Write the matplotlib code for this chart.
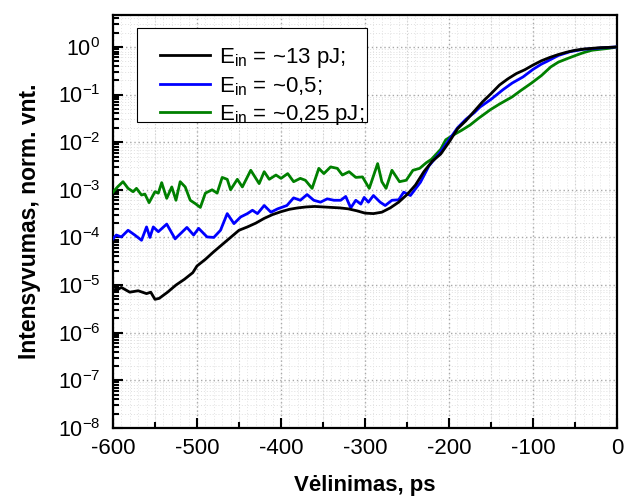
import numpy as np
import matplotlib
matplotlib.use("Agg")
import matplotlib.pyplot as plt
from matplotlib.patches import Rectangle
from matplotlib.ticker import MultipleLocator, LogLocator, NullFormatter

plt.rcParams['font.family'] = ['Liberation Sans', 'DejaVu Sans']
plt.rcParams['mathtext.fontset'] = 'custom'
plt.rcParams['mathtext.rm'] = 'Liberation Sans'
plt.rcParams['mathtext.it'] = 'Liberation Sans'
plt.rcParams['mathtext.bf'] = 'Liberation Sans:bold'
plt.rcParams['axes.unicode_minus'] = False

# Duomenys (log10 intensyvumo reiksmes)
t_black = [-600, -595, -590, -580, -570, -560, -555, -550, -545, -535, -525, -515, -505,
           -500, -490, -480, -470, -460, -450, -440, -430, -420, -410, -400, -390, -380,
           -370, -360, -350, -340, -330, -320, -310, -300, -290, -280, -270, -260, -250,
           -240, -230, -220, -210, -200, -190, -180, -170, -160, -150, -140, -130, -120,
           -110, -100, -90, -80, -70, -60, -50, -40, -30, -20, -10, 0]
log_black = [-5.0, -5.1, -5.05, -5.15, -5.12, -5.18, -5.15, -5.3, -5.28, -5.15, -5.0, -4.88,
             -4.74, -4.6, -4.46, -4.3, -4.15, -4.0, -3.85, -3.78, -3.7, -3.6, -3.52, -3.46,
             -3.41, -3.38, -3.36, -3.35, -3.36, -3.37, -3.38, -3.4, -3.44, -3.49, -3.5,
             -3.47, -3.38, -3.26, -3.1, -2.9, -2.62, -2.4, -2.25, -2.0, -1.72, -1.55, -1.35,
             -1.15, -0.98, -0.8, -0.67, -0.56, -0.48, -0.38, -0.29, -0.22, -0.16, -0.11,
             -0.07, -0.045, -0.03, -0.015, -0.01, 0.0]

t_blue = [-601, -596, -590, -582, -574, -566, -560, -556, -552, -546, -536, -526, -512,
          -504, -498, -488, -480, -472, -464, -456, -448, -440, -434, -428, -420, -412,
          -404, -393, -385, -377, -369, -361, -353, -345, -337, -329, -323, -317, -311,
          -305, -301, -296, -290, -282, -276, -268, -260, -254, -246, -234, -224, -210,
          -200, -190, -180, -170, -163, -150, -136, -125, -112, -100, -90, -83, -70, -56,
          -40, -25, -10, 0]
log_blue = [-4.05, -3.95, -3.99, -3.85, -3.95, -4.06, -3.78, -4.0, -3.78, -3.88, -3.72,
            -4.03, -3.79, -3.95, -3.81, -3.99, -4.0, -3.85, -3.5, -3.71, -3.57, -3.5, -3.43,
            -3.5, -3.33, -3.47, -3.4, -3.33, -3.17, -3.22, -3.1, -3.22, -3.26, -3.19, -3.22,
            -3.22, -3.14, -3.38, -3.22, -3.3, -3.16, -3.26, -3.12, -3.26, -3.33, -3.22,
            -3.21, -3.05, -3.12, -2.84, -2.5, -2.2, -1.95, -1.7, -1.52, -1.38, -1.26, -1.1,
            -0.9, -0.76, -0.63, -0.47, -0.36, -0.3, -0.18, -0.1, -0.05, -0.03, -0.01, 0.0]

t_green = [-601, -594, -588, -582, -576, -572, -566, -562, -557, -550, -546, -542, -536,
           -530, -525, -520, -514, -508, -502, -496, -490, -482, -476, -470, -464, -460,
           -452, -446, -436, -426, -420, -414, -406, -400, -392, -385, -377, -371, -363,
           -355, -349, -341, -333, -327, -319, -311, -303, -295, -285, -280, -275, -268,
           -259, -251, -243, -235, -227, -221, -210, -204, -195, -185, -175, -165, -151,
           -140, -125, -115, -102, -90, -79, -70, -60, -48, -40, -30, -20, -10, 0]
log_green = [-3.07, -2.93, -2.83, -2.97, -3.04, -2.97, -3.11, -3.09, -3.27, -3.04, -3.07,
             -2.85, -3.18, -2.94, -3.22, -2.83, -2.94, -3.22, -3.29, -3.37, -3.07, -3.0,
             -3.07, -2.74, -2.78, -3.0, -2.78, -2.94, -2.59, -2.87, -2.62, -2.78, -2.69,
             -2.76, -2.66, -2.83, -2.76, -2.8, -2.97, -2.55, -2.66, -2.52, -2.55, -2.69,
             -2.62, -2.74, -2.73, -2.97, -2.45, -2.83, -2.97, -2.59, -2.83, -2.8, -2.59,
             -2.55, -2.43, -2.36, -2.15, -1.95, -1.85, -1.75, -1.64, -1.5, -1.32, -1.2,
             -1.05, -0.92, -0.76, -0.6, -0.42, -0.32, -0.25, -0.17, -0.12, -0.07, -0.05,
             -0.03, 0.0]

labels = ['E$_{\\mathregular{in}}$ = ~13 pJ;', 'E$_{\\mathregular{in}}$ = ~0,5;',
          'E$_{\\mathregular{in}}$ = ~0,25 pJ;']
colors = ['black', '#0000ff', '#008000']

fig = plt.figure(figsize=(6.24, 4.97), dpi=100)
ax = fig.add_axes([0.181, 0.139, 0.808, 0.831])

ax.plot(t_black, 10 ** np.array(log_black), color=colors[0], lw=2, label=labels[0], zorder=5)
ax.plot(t_blue, 10 ** np.array(log_blue), color=colors[1], lw=2, label=labels[1], zorder=4)
ax.plot(t_green, 10 ** np.array(log_green), color=colors[2], lw=2, label=labels[2], zorder=3)

ax.set_yscale('log')
ax.set_xlim(-600, 0)
ax.set_ylim(1e-8, 4.7)
ax.xaxis.set_major_locator(MultipleLocator(100))
ax.xaxis.set_minor_locator(MultipleLocator(50))
ax.yaxis.set_major_locator(LogLocator(base=10, numticks=20))
ax.yaxis.set_minor_locator(LogLocator(base=10, subs=np.arange(2, 10), numticks=20))
ax.yaxis.set_minor_formatter(NullFormatter())

# tinklelis
ax.vlines(np.arange(-590, 0, 10), 1e-8, 4.7, colors='#e4e4e4', lw=0.7,
          linestyles=(0, (1, 2)), zorder=0)
ax.grid(True, which='minor', axis='y', color='#e0e0e0', ls=(0, (1, 2)), lw=0.7, zorder=0)
ax.grid(True, which='minor', axis='x', color='#cfcfcf', ls=(0, (1, 2)), lw=0.8, zorder=0)
ax.grid(True, which='major', color='#a8a8a8', ls=(0, (1, 2)), lw=1.0, zorder=0)
ax.set_axisbelow(True)

ax.tick_params(which='both', direction='in', top=False, right=False, width=1.5)
ax.tick_params(axis='x', labelsize=16, pad=7)
ax.tick_params(axis='y', labelsize=15.5, pad=9)
ax.tick_params(which='major', length=7)
ax.tick_params(which='minor', length=4)
for s in ax.spines.values():
    s.set_linewidth(1.6)

ax.set_xlabel('Vėlinimas, ps', fontsize=16, fontweight='bold', labelpad=12)
ax.set_ylabel('Intensyvumas, norm. vnt.', fontsize=16.5, fontweight='bold', labelpad=12)

# legendos remelis
ax.add_patch(Rectangle((0.0476, 0.741), 0.456, 0.228, transform=ax.transAxes,
                       facecolor='white', edgecolor='black', lw=0.8, zorder=6))
leg = ax.legend(loc='upper left', bbox_to_anchor=(0.0933, 0.925), fontsize=16,
                frameon=False, handlelength=2.25, handletextpad=0.4, borderpad=0,
                labelspacing=0.24, borderaxespad=0)
leg.set_zorder(7)

fig.savefig('out.png', dpi=100)
